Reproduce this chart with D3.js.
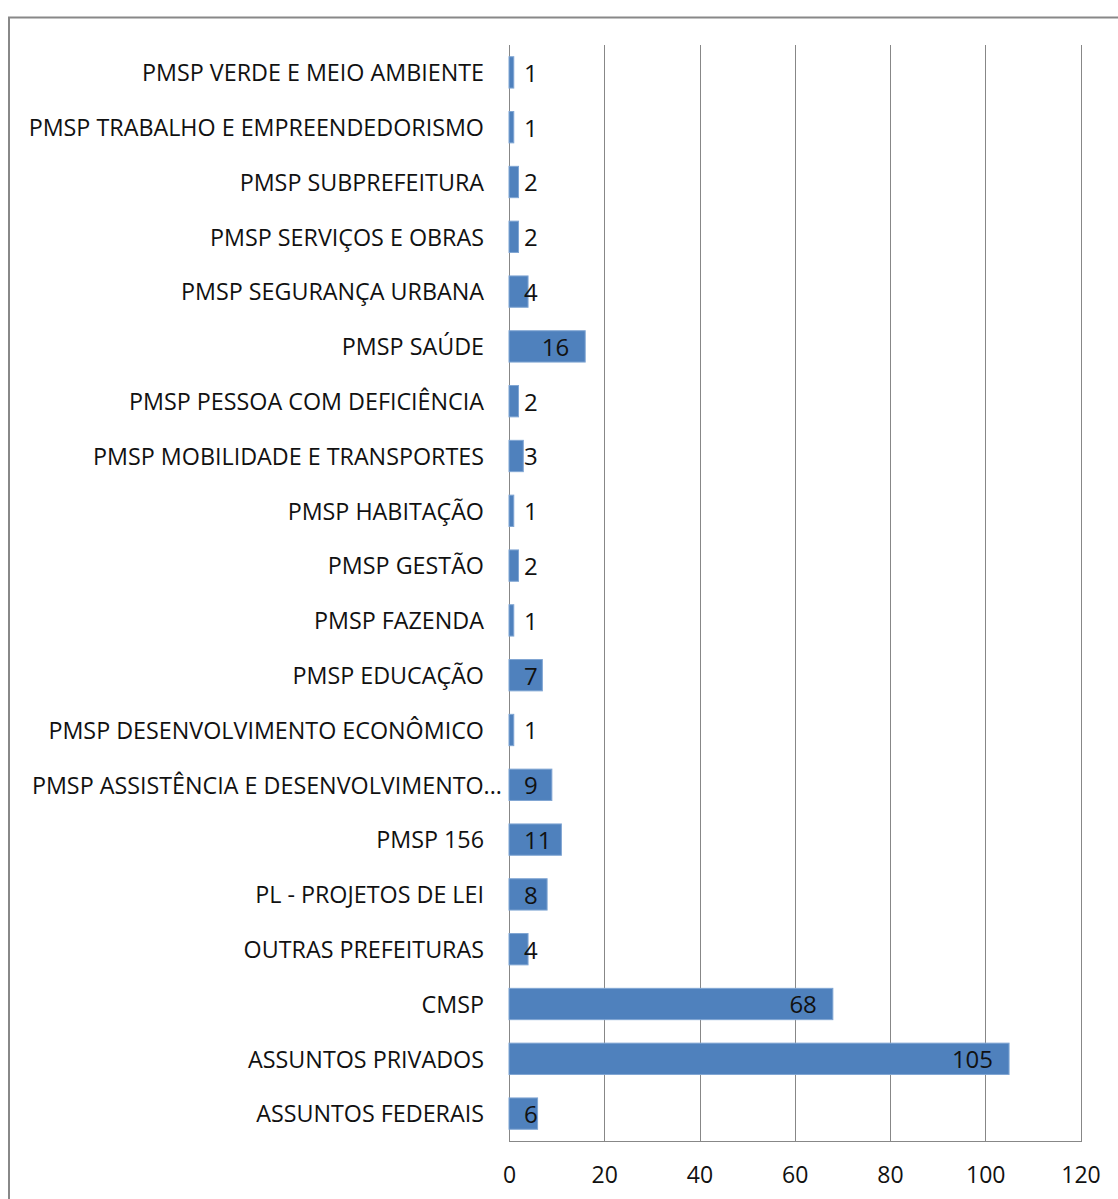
<!DOCTYPE html>
<html>
<head>
<meta charset="utf-8">
<script src="https://cdn.jsdelivr.net/npm/d3@7"></script>
<style>
  html, body { margin: 0; padding: 0; background: #fff; }
  svg { display: block; }
  text { font-family: "Open Sans", "Noto Sans", sans-serif; fill: #111; }
</style>
</head>
<body>
<script>
// Data, listed bottom-to-top as in the source spreadsheet
const categories = [
  "ASSUNTOS FEDERAIS",
  "ASSUNTOS PRIVADOS",
  "CMSP",
  "OUTRAS PREFEITURAS",
  "PL - PROJETOS DE LEI",
  "PMSP 156",
  "PMSP ASSISTÊNCIA E DESENVOLVIMENTO...",
  "PMSP DESENVOLVIMENTO ECONÔMICO",
  "PMSP EDUCAÇÃO",
  "PMSP FAZENDA",
  "PMSP GESTÃO",
  "PMSP HABITAÇÃO",
  "PMSP MOBILIDADE E TRANSPORTES",
  "PMSP PESSOA COM DEFICIÊNCIA",
  "PMSP SAÚDE",
  "PMSP SEGURANÇA URBANA",
  "PMSP SERVIÇOS E OBRAS",
  "PMSP SUBPREFEITURA",
  "PMSP TRABALHO E EMPREENDEDORISMO",
  "PMSP VERDE E MEIO AMBIENTE"
];
const values = [6, 105, 68, 4, 8, 11, 9, 1, 7, 1, 2, 1, 3, 2, 16, 4, 2, 2, 1, 1];
const xTicks = [0, 20, 40, 60, 80, 100, 120];

const W = 1118, H = 1199;
const svg = d3.select("body").append("svg").attr("width", W).attr("height", H);

// outer chart frame (extends beyond the picture on the right and bottom)
svg.append("rect")
  .attr("x", 9).attr("y", 17.5).attr("width", 1300).attr("height", 1400)
  .attr("fill", "none").attr("stroke", "#888").attr("stroke-width", 2);

const plot = { left: 509, right: 1080.5, top: 45, bottom: 1141 };

const x = d3.scaleLinear().domain([0, 120]).range([plot.left, plot.right]);
const data = categories.map((c, i) => ({ c, v: values[i] }));
const y = d3.scaleBand()
  .domain(categories.slice().reverse())
  .range([plot.top, plot.bottom])
  .paddingInner(0.4286).paddingOuter(0.2143);

// vertical gridlines
svg.append("g").selectAll("line").data(xTicks).join("line")
  .attr("x1", d => Math.round(x(d)) + 0.5).attr("x2", d => Math.round(x(d)) + 0.5)
  .attr("y1", plot.top).attr("y2", plot.bottom)
  .attr("stroke", "#878787").attr("stroke-width", 1);

// bottom axis line
svg.append("line")
  .attr("x1", plot.left).attr("x2", Math.round(plot.right) + 1)
  .attr("y1", plot.bottom + 0.5).attr("y2", plot.bottom + 0.5)
  .attr("stroke", "#878787");

// x axis labels
const xAxis = d3.axisBottom(x).tickValues(xTicks).tickSize(0).tickPadding(0);
const gx = svg.append("g").attr("transform", `translate(0,${plot.bottom})`).call(xAxis);
gx.select(".domain").remove();
gx.selectAll("text")
  .attr("dy", null).attr("y", 36)
  .attr("dominant-baseline", "middle")
  .style("font-size", "23px").style("font-family", "'Open Sans', sans-serif").attr("fill", "#111");

// category axis labels (truncated labels run closer to the axis, as in the source)
const yAxis = d3.axisLeft(y).tickSize(0).tickPadding(0);
const gy = svg.append("g").attr("transform", `translate(484,0)`).call(yAxis);
gy.select(".domain").remove();
gy.selectAll("text")
  .attr("x", d => d.endsWith("...") ? 18 : 0).attr("dy", null).attr("y", 2.5)
  .attr("dominant-baseline", "middle")
  .style("font-size", "23.3px").style("font-family", "'Open Sans', sans-serif").attr("fill", "#111");

// bars
svg.append("g").selectAll("rect").data(data).join("rect")
  .attr("x", x(0))
  .attr("y", d => y(d.c))
  .attr("width", d => x(d.v) - x(0))
  .attr("height", y.bandwidth())
  .attr("fill", "#4F81BD")
  .attr("stroke", "#7FA5D3").attr("stroke-width", 1);

// value labels: inside end, but never left of a minimum offset
const labels = svg.append("g").selectAll("text").data(data).join("text")
  .attr("y", d => y(d.c) + y.bandwidth() / 2 + 3)
  .attr("dominant-baseline", "middle")
  .style("font-size", "24px")
  .text(d => d.v);
labels.each(function(d) {
  const w = this.getComputedTextLength();
  const left = Math.max(x(d.v) - 16 - w, x(0) + 15);
  d3.select(this).attr("x", left);
});
</script>
</body>
</html>
